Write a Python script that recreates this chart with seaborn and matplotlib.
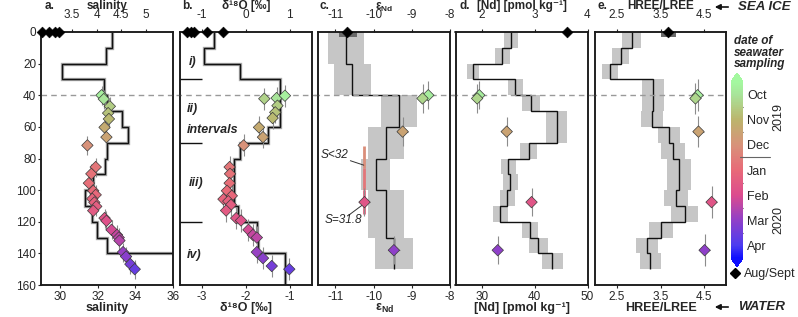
import numpy as np
import matplotlib
matplotlib.use("Agg")
import matplotlib.pyplot as plt
import seaborn as sns
from matplotlib.colors import LinearSegmentedColormap, Normalize
from matplotlib.cm import ScalarMappable
from matplotlib.lines import Line2D
from matplotlib.patches import FancyArrowPatch

# ---------------- seawater samples (date = months since 1 Oct 2019) ----------------
sal_depth = [40, 42.4, 47, 51.3, 55, 60.3, 66.5, 71.7, 85.4, 89.7, 95.6, 100.4, 103, 105.5,
             107.8, 110.3, 113, 117.7, 119.4, 125.1, 128.3, 130, 131.9, 139.2, 142, 146.8, 150]
sal_value = [32.21, 32.33, 32.65, 32.56, 32.6, 32.37, 32.47, 31.46, 31.9, 31.67, 31.54, 31.77,
             31.9, 31.72, 31.83, 31.93, 31.77, 32.37, 32.47, 32.74, 33.03, 33.12, 33.16, 33.35,
             33.51, 33.74, 33.97]
sal_date = [0.2, 0.5, 1.0, 1.2, 1.4, 1.8, 2.0, 2.5, 3.2, 3.3, 3.4, 3.5, 3.6, 3.7, 3.8, 3.9,
            4.0, 4.2, 4.3, 4.6, 4.8, 4.9, 5.0, 5.4, 5.6, 5.9, 6.1]

d18o_depth = [42.2, 41.8, 40.3, 46.6, 50.8, 54.4, 60.3, 66.5, 71.7, 85.4, 89.7, 95.6, 100.4,
              103.6, 105.7, 107, 109.3, 112.9, 117.7, 119.2, 125.1, 128.3, 130, 139.2, 143, 148, 150]
d18o_value = [-1.58, -1.30, -1.11, -1.28, -1.33, -1.39, -1.70, -1.61, -2.05, -2.37, -2.36,
              -2.37, -2.43, -2.32, -2.51, -2.40, -2.34, -2.45, -2.22, -2.11, -1.94, -1.84,
              -1.75, -1.75, -1.61, -1.41, -1.01]
d18o_date = [0.9, 0.5, 0.2, 1.0, 1.2, 1.4, 1.8, 2.0, 2.5, 3.2, 3.3, 3.4, 3.5, 3.6, 3.7, 3.8,
             3.9, 4.0, 4.2, 4.3, 4.6, 4.8, 4.9, 5.4, 5.6, 5.9, 6.1]

ree_depth = [40, 42, 63, 107.6, 138]
ree_date = [0.3, 0.8, 2.0, 4.2, 5.5]
end_value = [-8.57, -8.72, -9.24, -10.24, -9.47]
nd_value = [29.5, 29.1, 34.7, 39.4, 33.0]
ratio_value = [4.35, 4.30, 4.37, 4.67, 4.51]

# Aug/Sept seawater (plotted at 0 cm)
aug_sal = [29.06, 29.4, 29.75, 29.98]
aug_d18o = [-3.33, -3.26, -3.19, -2.89, -2.51]
aug_end = [-10.69]
aug_nd = [46.2]
aug_ratio = [3.67]

# ---------------- sea-ice core profiles ----------------
ice_edges_10 = [0, 10, 20, 30, 40, 50, 60, 70, 80, 90, 100, 110, 120, 130, 140, 160]
ice_sal = [4.32, 4.18, 3.29, 4.15, 4.20, 4.51, 4.64, 4.22, 4.17, 3.93, 3.76, 3.90, 4.00, 4.20, 5.8]
ice_d18o = [-0.72, -0.96, -0.13, 0.78, 0.78, 0.78, 0.51, -0.13, -0.27, -0.27, -0.27, -0.17,
            0.25, 0.28, 0.89]

ice_end_edges = [0, 20, 40, 60, 80, 100, 130, 150]
ice_end = [-10.72, -10.56, -9.33, -9.68, -9.95, -9.68, -9.47]
ice_end_err = [0.47, 0.48, 0.47, 0.47, 0.37, 0.48, 0.49]

ice_nd_edges = [0, 10, 20, 30, 40, 50, 70, 80, 90, 100, 110, 120, 130, 140, 150]
ice_nd = [2.55, 2.39, 1.83, 2.63, 2.93, 3.42, 2.89, 2.50, 2.54, 2.48, 2.35, 2.91, 3.07, 3.33]
ice_nd_err = [0.14, 0.14, 0.11, 0.14, 0.17, 0.2, 0.16, 0.14, 0.14, 0.14, 0.14, 0.16, 0.18, 0.2]

ice_ratio_edges = [0, 10, 20, 30, 40, 50, 60, 70, 80, 90, 100, 110, 120, 130, 140, 150]
ice_ratio = [2.84, 2.59, 2.35, 3.32, 3.32, 3.30, 3.70, 3.79, 3.92, 3.92, 3.86, 4.05, 3.51, 3.20, 3.26]
ice_ratio_err = [0.22, 0.2, 0.18, 0.25, 0.25, 0.25, 0.25, 0.28, 0.28, 0.28, 0.27, 0.3, 0.27, 0.25, 0.24]

# top dark boxes (Aug/Sept uncertainty)
end_top_box = [-10.91, -10.43]
ratio_top_box = [3.52, 3.86]
box_depth = [0, 3]

# low-salinity bar in panel c
slow_depth = [72, 86, 100, 115]
slow_date = [2.6, 3.2, 3.8]

months = ["Oct", "Nov", "Dec", "Jan", "Feb", "Mar", "Apr"]

# ---------------- style ----------------
sns.set_style("ticks")
plt.rcParams["font.family"] = ["Liberation Sans", "DejaVu Sans"]
plt.rcParams["mathtext.fontset"] = "custom"
plt.rcParams["mathtext.rm"] = "Liberation Sans"
plt.rcParams["mathtext.bf"] = "Liberation Sans:bold"
plt.rcParams["mathtext.it"] = "Liberation Sans:italic"
plt.rcParams["axes.linewidth"] = 1.1
plt.rcParams["axes.edgecolor"] = "#1a1a1a"

cmap = LinearSegmentedColormap.from_list("sw", [
    (0.0, "#a4f8a0"), (0.5 / 7, "#a8e49a"), (1.5 / 7, "#bcb46c"), (2.5 / 7, "#d8927a"),
    (3.5 / 7, "#e86a78"), (4.5 / 7, "#dc4c8e"), (5.5 / 7, "#9040c8"), (6.5 / 7, "#4c3cf0"),
    (1.0, "#1010ff")])
norm = Normalize(0, 7)

W, H = 798, 317
fig = plt.figure(figsize=(W / 100, H / 100), dpi=100)


def px_box(x0, x1, y0=32, y1=285):
    return [x0 / W, 1 - y1 / H, (x1 - x0) / W, (y1 - y0) / H]


def panel(x0, x1, lx, letter, title, xlim, xt, xtl, txlim, txt, txtl, line_ext=(-0.03, 1.03)):
    ax = fig.add_axes(px_box(x0, x1))
    ax_t = ax.twiny()
    ax.set_zorder(ax_t.get_zorder() + 1)
    ax.patch.set_visible(False)
    ax.set_ylim(160, 0)
    ax.set_xlim(xlim)
    ax.set_xticks(xt, xtl)
    ax_t.set_xlim(txlim)
    ax_t.set_xticks(txt, txtl)
    ax.tick_params(axis="x", length=2.5, pad=1.5, labelsize=8.5)
    ax_t.tick_params(axis="x", length=2.5, pad=5.5, labelsize=8.5)
    ax.tick_params(axis="y", left=False, labelleft=False)
    ax.set_xlabel(title, fontweight="bold", fontsize=9)
    ax.xaxis.set_label_coords(0.5, -0.102)
    ax.xaxis.label.set_va("baseline")
    ax_t.set_xlabel(title, fontweight="bold", fontsize=8.5)
    ax_t.xaxis.set_label_coords(0.5, 1.089)
    ax_t.xaxis.label.set_va("baseline")
    ax.text((lx - x0) / (x1 - x0), 1.089, letter, transform=ax.transAxes, fontweight="bold",
            fontsize=8.5, ha="left", va="baseline")
    ax.axhline(40, xmin=line_ext[0], xmax=line_ext[1], color="#999999", lw=1,
               ls=(0, (4, 3)), clip_on=False, zorder=1)
    return ax, ax_t


def seawater(ax, x, y, date, xerr, yerr):
    ax.errorbar(x, y, xerr=xerr, yerr=yerr, fmt="none", ecolor="#8c8c8c", elinewidth=0.8, zorder=3)
    sns.scatterplot(x=x, y=y, hue=date, palette=cmap, hue_norm=norm, marker="D", s=34,
                    edgecolor="#3a3a3a", linewidth=0.5, legend=False, ax=ax, zorder=4)


def aug(ax, x):
    sns.scatterplot(x=x, y=[0] * len(x), color="k", marker="D", s=30, edgecolor="k",
                    clip_on=False, zorder=6, ax=ax)


def boxes(ax_t, edges, vals, err, color="#c6c6c6"):
    e = np.asarray(edges, float)
    v = np.asarray(vals, float)
    r = np.asarray(err, float)
    ax_t.barh(y=(e[:-1] + e[1:]) / 2, width=2 * r, left=v - r, height=np.diff(e),
              color=color, linewidth=0, zorder=1)


def profile(ax_t, edges, vals, shadow=False):
    if shadow:
        ax_t.stairs(vals, edges, orientation="horizontal", baseline=None, color="#a8a8a8",
                    lw=2.4, zorder=2)
    ax_t.stairs(vals, edges, orientation="horizontal", baseline=None, color="#111111",
                lw=1.0, zorder=3)


# ---- a. salinity ----
ax_a, at_a = panel(41, 173, 45, "a.", "salinity", (29, 36), [30, 32, 34, 36],
                   ["30", "32", "34", "36"], (2.87, 5.55), [3.5, 4, 4.5, 5],
                   ["3.5", "4", "4.5", "5"], line_ext=(0, 1.03))
profile(at_a, ice_edges_10, ice_sal, shadow=True)
seawater(ax_a, sal_value, sal_depth, sal_date, None, 6)
aug(ax_a, aug_sal)
ax_a.set_yticks(range(0, 161, 20))
ax_a.tick_params(axis="y", left=True, labelleft=True, length=2, pad=1.5, labelsize=8.5)
ax_a.set_ylabel("ice core depth [cm]", fontweight="bold", fontsize=9)
ax_a.yaxis.set_label_coords(-0.27, 0.5)

# ---- b. d18O ----
ax_b, at_b = panel(180, 311.7, 182, "b.", "δ¹⁸O [‰]", (-3.5, -0.5), [-3, -2, -1],
                   ["-3", "-2", "-1"], (-1.5, 1.5), [-1, 0, 1], ["-1", "0", "1"])
profile(at_b, ice_edges_10, ice_d18o, shadow=True)
seawater(ax_b, d18o_value, d18o_depth, d18o_date, None, 7)
aug(ax_b, aug_d18o)
ax_b.hlines([30, 70, 120], 0, 0.17, transform=ax_b.get_yaxis_transform(), color="#111111", lw=1)
for xx, dd, tt in [(0.07, 19, "i)"), (0.05, 49, "ii)"), (0.05, 62, "intervals"),
                   (0.07, 95.5, "iii)"), (0.05, 141, "iv)")]:
    ax_b.text(xx, dd, tt, transform=ax_b.get_yaxis_transform(), fontweight="bold",
              style="italic", fontsize=9, va="center", ha="left")

# ---- c. eNd ----
end_ticks = [-11, -10, -9, -8]
end_labels = ["-11", "-10", "-9", "-8"]
ax_c, at_c = panel(318.3, 450, 319, "c.", "ε$_{\\mathbf{Nd}}$", (-11.45, -8), end_ticks, end_labels,
                   (-11.45, -8), end_ticks, end_labels)
boxes(at_c, ice_end_edges, ice_end, ice_end_err)
at_c.barh(y=np.mean(box_depth), width=np.diff(end_top_box), left=end_top_box[0],
          height=np.diff(box_depth), color="#6a6a6a", linewidth=0, zorder=1)
profile(at_c, ice_end_edges, ice_end)
for i in range(len(slow_date)):
    ax_c.plot([end_value[3]] * 2, slow_depth[i:i + 2], color=cmap(norm(slow_date[i])), lw=2,
              solid_capstyle="butt", zorder=2)
seawater(ax_c, end_value, ree_depth, ree_date, 0.15, 9)
aug(ax_c, aug_end)
ax_c.text(-11.38, 78, "S<32", style="italic", fontsize=8.5, va="center", ha="left")
ax_c.plot([-10.61, -10.26], [81.4, 84.2], color="#333333", lw=0.7)
ax_c.text(-11.27, 119, "S=31.8", style="italic", fontsize=8.5, va="center", ha="left")
ax_c.plot([-10.65, -10.30], [115.8, 109.5], color="#333333", lw=0.7)

# ---- d. [Nd] ----
ax_d, at_d = panel(455.5, 587.5, 459, "d.", "[Nd] [pmol kg⁻¹]", (25, 50),
                   [30, 40, 50], ["30", "40", "50"], (1.5, 4.0), [2, 3, 4], ["2", "3", "4"])
boxes(at_d, ice_nd_edges, ice_nd, ice_nd_err)
profile(at_d, ice_nd_edges, ice_nd)
seawater(ax_d, nd_value, ree_depth, ree_date, None, 9)
aug(ax_d, aug_nd)

# ---- e. HREE/LREE ----
r_ticks = [2.5, 3.5, 4.5]
r_labels = ["2.5", "3.5", "4.5"]
ax_e, at_e = panel(595, 726, 598, "e.", "HREE/LREE", (2.0, 5.0), r_ticks, r_labels,
                   (2.0, 5.0), r_ticks, r_labels, line_ext=(-0.03, 1.0))
boxes(at_e, ice_ratio_edges, ice_ratio, ice_ratio_err)
at_e.barh(y=np.mean(box_depth), width=np.diff(ratio_top_box), left=ratio_top_box[0],
          height=np.diff(box_depth), color="#6a6a6a", linewidth=0, zorder=1)
profile(at_e, ice_ratio_edges, ice_ratio)
seawater(ax_e, ratio_value, ree_depth, ree_date, 0.12, 10)
aug(ax_e, aug_ratio)

# ---- colour bar ----
cax = fig.add_axes(px_box(731, 743, 73, 267))
cbar = fig.colorbar(ScalarMappable(norm=norm, cmap=cmap), cax=cax, extend="both")
cax.invert_yaxis()
cbar.set_ticks([i + 0.5 for i in range(7)], labels=months)
cbar.set_ticks(list(range(1, 7)), minor=True)
cbar.outline.set_visible(False)
cax.tick_params(which="major", length=0, pad=3, labelsize=9)
cax.tick_params(which="minor", length=2.5, left=True, right=True, direction="in",
                color="#333333", width=0.8)
ytr = cax.get_yaxis_transform()
cax.plot([0.75, 3.25], [3, 3], transform=ytr, color="#666666", lw=0.8, clip_on=False)
cax.text(3.95, 1.4, "2019", rotation=90, transform=ytr, ha="center", va="center", fontsize=9)
cax.text(3.95, 5.5, "2020", rotation=90, transform=ytr, ha="center", va="center", fontsize=9)

fig.text(734 / W, 1 - 35 / H, "date of\nseawater\nsampling", fontweight="bold", style="italic",
         fontsize=8.5, ha="left", va="top", linespacing=0.95)
fig.legend(handles=[Line2D([], [], marker="D", color="k", ls="", markersize=5)],
           labels=["Aug/Sept"], loc="center left", bbox_to_anchor=(731 / W, 1 - 274 / H),
           frameon=False, handlelength=0.6, handletextpad=0.4, borderaxespad=0, borderpad=0,
           fontsize=9)

# ---- sea ice / water arrows ----
for yy, txt in [(7, "SEA ICE"), (307, "WATER")]:
    fig.text(738 / W, 1 - yy / H, txt, fontweight="bold", style="italic", fontsize=9.5,
             ha="left", va="center")
    fig.add_artist(FancyArrowPatch((731 / W, 1 - yy / H), (712 / W, 1 - yy / H),
                                   transform=fig.transFigure, arrowstyle="-|>",
                                   mutation_scale=8, lw=1.2, color="#111111"))

fig.savefig("out.png", dpi=100)
